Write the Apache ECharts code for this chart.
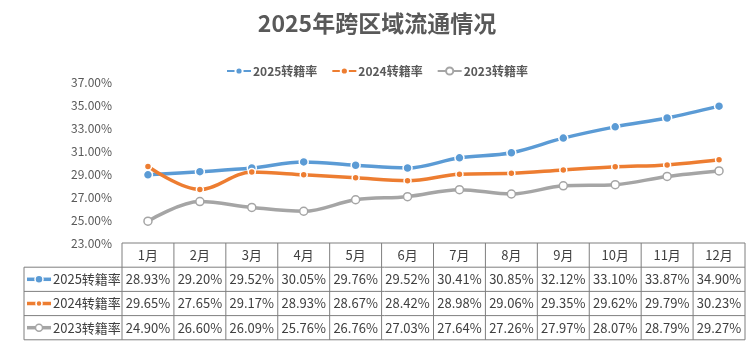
<!DOCTYPE html>
<html><head><meta charset="utf-8">
<script src="https://cdn.jsdelivr.net/npm/echarts@6/dist/echarts.min.js"></script>
<style>html,body{margin:0;padding:0;background:#fff}#c{width:754px;height:343px}</style>
</head><body><div id="c"></div>
<script>
var months = ['1月','2月','3月','4月','5月','6月','7月','8月','9月','10月','11月','12月'];
var s2025 = [28.93,29.20,29.52,30.05,29.76,29.52,30.41,30.85,32.12,33.10,33.87,34.90];
var s2024 = [29.65,27.65,29.17,28.93,28.67,28.42,28.98,29.06,29.35,29.62,29.79,30.23];
var s2023 = [24.90,26.60,26.09,25.76,26.76,27.03,27.64,27.26,27.97,28.07,28.79,29.27];
var seriesNames = ['2025转籍率','2024转籍率','2023转籍率'];
var colors = ['#5B9BD5','#ED7D31','#A5A5A5'];
var yMin = 23, yMax = 37, yStep = 2;

(function(){
var FONT = '"Noto Sans CJK SC","Noto Sans",sans-serif';
var chart = echarts.init(document.getElementById('c'));
var gridL = 122, gridR = 9, gridT = 82, gridH = 161;
function mk(name, data, color, size, fill){
  return {name:name,type:'line',data:data,smooth:0.35,symbol:'circle',symbolSize:size,
    lineStyle:{color:color,width:3.5},
    itemStyle:{color:fill||color,borderColor:fill?color:'#fff',borderWidth:1.5},
    emphasis:{disabled:true}};
}
chart.setOption({
  animation:false,
  title:{text:'2025年跨区域流通情况',left:'center',top:7,textStyle:{fontFamily:FONT,fontSize:23,fontWeight:'bold',color:'#595959'}},
  legend:{top:60,left:'center',itemWidth:24,itemHeight:9,itemGap:14,
    textStyle:{fontFamily:FONT,fontSize:12,color:'#595959',fontWeight:'bold',padding:[0,0,0,-3]},data:seriesNames},
  grid:{left:gridL,right:gridR,top:gridT,height:gridH},
  xAxis:{type:'category',data:months,boundaryGap:true,axisLabel:{show:false},axisTick:{show:false},
    axisLine:{show:false}},
  yAxis:{type:'value',min:yMin,max:yMax,interval:yStep,splitLine:{show:false},axisLine:{show:false},axisTick:{show:false},
    axisLabel:{formatter:function(v){return v.toFixed(2)+'%';},fontFamily:FONT,fontSize:12,color:'#595959',margin:10}},
  series:[mk(seriesNames[0],s2025,colors[0],9),mk(seriesNames[1],s2024,colors[1],7),mk(seriesNames[2],s2023,colors[2],8,'#fff')]
});

var rows = [s2025,s2024,s2023];
var x0 = chart.convertToPixel({xAxisIndex:0},0), x1 = chart.convertToPixel({xAxisIndex:0},1);
var colW = x1 - x0;
var tl = x0 - colW/2, tr = tl + colW*months.length;
var tt = gridT + gridH, rowH = 24.2, labelLeft = 24;
var els = [];
var lc = '#7f7f7f';
function line(a,b,c,d){els.push({type:'line',shape:{x1:a,y1:b,x2:c,y2:d},style:{stroke:lc,lineWidth:1}});}
line(tl,tt,tr,tt);
for(var r=1;r<=4;r++){ line(labelLeft,tt+rowH*r,tr,tt+rowH*r); }
line(labelLeft,tt+rowH,labelLeft,tt+rowH*4);
for(var c=0;c<=months.length;c++){ var xx=tl+colW*c; line(xx,tt,xx,tt+rowH*4); }
for(var c=0;c<months.length;c++){
  var cx = tl+colW*(c+0.5);
  els.push({type:'text',x:cx,y:tt+rowH*0.5,style:{text:months[c],fontFamily:FONT,fontSize:13,fill:'#404040',align:'center',verticalAlign:'middle'}});
  for(var r=0;r<3;r++){
    els.push({type:'text',x:cx,y:tt+rowH*(r+1.5),style:{text:rows[r][c].toFixed(2)+'%',fontFamily:FONT,fontSize:13,fill:'#404040',align:'center',verticalAlign:'middle'}});
  }
}
for(var r=0;r<3;r++){
  var cy = tt+rowH*(r+1.5);
  els.push({type:'line',shape:{x1:27,y1:cy,x2:51,y2:cy},style:{stroke:colors[r],lineWidth:3.5}});
  els.push({type:'circle',shape:{cx:39,cy:cy,r:r===0?4:(r===1?3:3.5)},style:{fill:r===2?'#fff':colors[r],stroke:r===2?colors[r]:'#fff',lineWidth:1.5}});
  els.push({type:'text',x:53,y:cy,style:{text:seriesNames[r],fontFamily:FONT,fontSize:13,fill:'#404040',align:'left',verticalAlign:'middle'}});
}
chart.setOption({graphic:{elements:els}});
})();
</script></body></html>
